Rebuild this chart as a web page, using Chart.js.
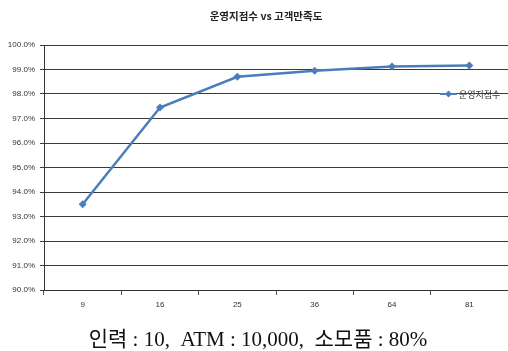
<!DOCTYPE html>
<html>
<head>
<meta charset="utf-8">
<script src="https://cdn.jsdelivr.net/npm/chart.js@4/dist/chart.umd.min.js"></script>
<style>
  html, body { margin: 0; padding: 0; background: #fff; }
  #wrap { width: 508px; height: 351px; }
</style>
</head>
<body>
<div id="wrap"><canvas id="chart" width="508" height="351"></canvas></div>
<script>
const categories = ['9', '16', '25', '36', '64', '81'];
const satisfaction = [93.5, 97.45, 98.7, 98.95, 99.12, 99.16];
const yTicks = [90, 91, 92, 93, 94, 95, 96, 97, 98, 99, 100];
const seriesName = '운영지점수';
const chartTitle = '운영지점수 vs 고객만족도';
const caption = '인력 : 10,  ATM : 10,000,  소모품 : 80%';

const lineColor = '#4a7ebb';
const smallFont = "'Liberation Sans', 'Noto Sans CJK KR', sans-serif";

// title, legend inside the plot, caption under the axis
const extras = {
  id: 'extras',
  afterDraw(chart) {
    const ctx = chart.ctx;
    const area = chart.chartArea;
    ctx.save();
    ctx.fillStyle = '#222';
    ctx.textAlign = 'center';
    ctx.textBaseline = 'middle';
    ctx.font = "bold 10.5px 'Noto Sans CJK KR', sans-serif";
    ctx.fillText(chartTitle, 266, 16);

    // legend
    const ly = area.top + 49;
    ctx.strokeStyle = lineColor;
    ctx.lineWidth = 2;
    ctx.beginPath();
    ctx.moveTo(440, ly);
    ctx.lineTo(457, ly);
    ctx.stroke();
    ctx.fillStyle = lineColor;
    ctx.beginPath();
    ctx.moveTo(448.5, ly - 3.5);
    ctx.lineTo(452, ly);
    ctx.lineTo(448.5, ly + 3.5);
    ctx.lineTo(445, ly);
    ctx.closePath();
    ctx.fill();
    ctx.fillStyle = '#333';
    ctx.textAlign = 'left';
    ctx.font = "9px 'Noto Sans CJK KR', sans-serif";
    ctx.fillText(seriesName, 459, ly + 1);

    ctx.fillStyle = '#111';
    ctx.textAlign = 'center';
    ctx.font = "21px 'Liberation Serif', 'Noto Sans CJK KR', serif";
    ctx.fillText(caption, 258, 340);
    ctx.restore();
  }
};

new Chart(document.getElementById('chart'), {
  type: 'line',
  data: {
    labels: categories,
    datasets: [{
      label: seriesName,
      data: satisfaction,
      borderColor: lineColor,
      backgroundColor: lineColor,
      borderWidth: 2.5,
      pointStyle: 'rectRot',
      pointRadius: 4,
      pointBorderWidth: 0,
      tension: 0
    }]
  },
  options: {
    responsive: false,
    animation: false,
    layout: { autoPadding: false, padding: { top: 45, right: 0, left: 0, bottom: 0 } },
    plugins: {
      legend: { display: false },
      title: { display: false },
      tooltip: { enabled: false }
    },
    scales: {
      x: {
        offset: true,
        grid: { offset: true, drawOnChartArea: false, tickLength: 5, color: '#555' },
        border: { color: '#333' },
        ticks: { padding: 5, color: '#333', font: { family: smallFont, size: 8 } },
        afterFit(scale) {
          scale.height = 61;
          scale.paddingLeft = 0;
          scale.paddingRight = 0;
        }
      },
      y: {
        min: 90,
        max: 100,
        afterBuildTicks(scale) { scale.ticks = yTicks.map(v => ({ value: v })); },
        grid: { color: '#3a3a3a', tickLength: 4 },
        border: { color: '#333' },
        ticks: {
          padding: 5,
          color: '#333',
          font: { family: smallFont, size: 8 },
          callback: v => v.toFixed(1) + '%'
        },
        afterFit(scale) {
          scale.width = 44;
          scale.paddingTop = 0;
          scale.paddingBottom = 0;
        }
      }
    }
  },
  plugins: [extras]
});
</script>
</body>
</html>
